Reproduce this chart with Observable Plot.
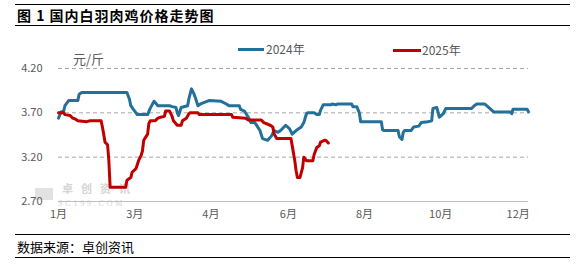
<!DOCTYPE html>
<html><head><meta charset="utf-8">
<script src="https://cdn.jsdelivr.net/npm/d3@7"></script>
<script src="https://cdn.jsdelivr.net/npm/@observablehq/plot@0.6"></script>
<style>
body{margin:0;background:#fff;font-family:"Noto Sans CJK SC","Noto Sans",sans-serif;}
#wrap{position:relative;width:581px;height:265px;overflow:hidden;background:#fff;}
.abs{position:absolute;white-space:nowrap;line-height:1;}
.hr{position:absolute;height:0;border-top:1.5px solid #000;}
#chart{position:absolute;left:0;top:0;}
</style></head><body><div id="wrap">
<div class="hr" style="left:15px;top:3.5px;width:555px;"></div>
<div class="abs" style="left:17px;top:8px;font-size:14px;font-weight:bold;color:#000;letter-spacing:1px;">图 1 国内白羽肉鸡价格走势图</div>
<div class="hr" style="left:15px;top:25px;width:555px;"></div>
<div class="abs" style="left:35px;top:188px;width:18px;height:12px;background:#e2e2e2;"></div>
<div class="abs" style="left:62px;top:183px;font-size:11px;color:#d4d4d4;font-weight:bold;letter-spacing:8px;">卓创资讯</div>
<div class="abs" style="left:58px;top:199.5px;font-size:8px;color:#d4d4d4;letter-spacing:2.8px;font-family:'Liberation Serif',serif;">SC199.COM</div>
<div id="chart"></div>
<div class="abs" style="left:73px;top:52px;font-size:13px;color:#595959;">元/斤</div>
<div class="abs" id="leg1" style="left:238px;top:47.5px;width:26px;height:3px;"></div>
<div class="abs" id="leg1t" style="left:266px;top:43px;font-size:12px;color:#595959;"></div>
<div class="abs" id="leg2" style="left:393px;top:48.5px;width:28px;height:3px;"></div>
<div class="abs" id="leg2t" style="left:422px;top:44px;font-size:12px;color:#595959;"></div>
<div class="hr" style="left:15px;top:234px;width:555px;"></div>
<div class="abs" style="left:17px;top:240px;font-size:13px;color:#000;">数据来源：卓创资讯</div>
<div class="hr" style="left:15px;top:257px;width:555px;"></div>
</div>
<script>
const dates2024 = ["01-01","01-03","01-05","01-06","01-09","01-16","01-17","01-19","02-23","02-25","02-26","02-28","03-02","03-03","03-11","03-13","03-16","03-19","03-28","03-30","04-02","04-03","04-04","04-06","04-11","04-12","04-14","04-16","04-17","04-19","04-21","04-28","05-07","05-11","05-13","05-21","05-22","05-25","05-28","05-30","06-02","06-03","06-06","06-08","06-12","06-15","06-17","06-20","06-22","06-26","06-29","07-01","07-04","07-08","07-10","07-12","07-13","07-18","07-20","07-22","07-23","07-25","07-31","08-01","08-04","08-05","08-16","08-17","08-20","08-22","08-23","09-08","09-09","09-10","09-21","09-22","09-24","09-25","09-26","10-01","10-03","10-07","10-09","10-14","10-17","10-18","10-21","10-23","10-26","10-28","11-17","11-19","11-21","11-27","12-01","12-04","12-17","12-18","12-19","12-30","12-31"];
const prices2024 = [3.64,3.71,3.72,3.78,3.84,3.84,3.91,3.93,3.93,3.85,3.78,3.74,3.70,3.68,3.68,3.75,3.83,3.78,3.78,3.77,3.76,3.70,3.67,3.76,3.78,3.86,3.97,3.91,3.87,3.78,3.80,3.84,3.83,3.80,3.78,3.78,3.74,3.72,3.65,3.59,3.59,3.57,3.50,3.41,3.39,3.44,3.50,3.48,3.50,3.56,3.52,3.46,3.50,3.54,3.59,3.69,3.70,3.70,3.68,3.68,3.73,3.79,3.79,3.80,3.79,3.80,3.80,3.77,3.77,3.70,3.60,3.60,3.51,3.50,3.50,3.43,3.40,3.48,3.50,3.50,3.54,3.55,3.59,3.60,3.61,3.75,3.76,3.65,3.69,3.75,3.75,3.78,3.80,3.80,3.75,3.71,3.71,3.69,3.74,3.74,3.71];
const dates2025 = ["01-01","01-05","01-06","01-10","01-12","01-14","01-16","01-23","01-25","02-03","02-04","02-05","02-06","02-08","02-09","02-10","02-22","02-23","02-26","02-27","03-02","03-04","03-06","03-07","03-08","03-11","03-12","03-13","03-17","03-19","03-21","03-24","03-25","03-28","03-29","03-30","03-31","04-03","04-06","04-07","04-10","04-12","04-13","04-19","04-20","05-15","05-16","05-26","05-28","06-07","06-09","06-14","06-16","06-17","06-19","06-30","07-01","07-03","07-04","07-05","07-07","07-09","07-10","07-12","07-17","07-18","07-20","07-22","07-23","07-26","07-27","07-29"];
const prices2025 = [3.70,3.70,3.68,3.67,3.64,3.63,3.61,3.60,3.61,3.61,3.54,3.46,3.37,3.34,3.16,2.86,2.86,2.94,2.97,3.03,3.07,3.16,3.22,3.27,3.39,3.46,3.58,3.61,3.61,3.64,3.65,3.66,3.72,3.72,3.69,3.66,3.61,3.56,3.56,3.61,3.64,3.69,3.70,3.70,3.68,3.68,3.65,3.64,3.62,3.62,3.59,3.56,3.54,3.46,3.41,3.41,3.33,3.16,3.05,2.97,2.97,3.08,3.20,3.16,3.16,3.23,3.31,3.33,3.37,3.39,3.39,3.36];
const tickDates = ["01-01","03-01","04-29","06-28","08-26","10-24","12-23"];
const tickLabels = ["1月","3月","4月","6月","8月","10月","12月"];
const yTicks = [2.70, 3.20, 3.70, 4.20];
const seriesNames = ["2024年","2025年"];
const seriesColors = ["#23709a","#c00000"];

const parse = s => new Date(`2025-${s}T00:00:00Z`);
const tickTimes = tickDates.map(parse);
const rows = [
  ...dates2024.map((d,i)=>({date:parse(d), price:prices2024[i], series:seriesNames[0]})),
  ...dates2025.map((d,i)=>({date:parse(d), price:prices2025[i], series:seriesNames[1]}))
];

const chart = Plot.plot({
  width:581, height:265,
  marginLeft:58, marginRight:53, marginTop:68, marginBottom:64,
  style:{background:"transparent", fontFamily:"'Noto Sans CJK SC','Noto Sans',sans-serif", fontSize:"11px", color:"#595959", overflow:"visible"},
  x:{type:"utc", domain:[parse("01-01"), parse("12-31")], ticks:tickTimes,
     tickFormat:d => tickLabels[tickTimes.findIndex(t => +t === +d)], tickSize:0, tickPadding:9, label:null},
  y:{domain:[2.7,4.2], ticks:yTicks, tickFormat:d3.format(".2f"), tickSize:0, tickPadding:16, label:null},
  color:{domain:seriesNames, range:seriesColors},
  marks:[
    Plot.ruleY(yTicks.slice(1), {stroke:"#a6a6a6", strokeDasharray:"4,3", strokeWidth:1}),
    Plot.ruleY([yTicks[0]], {stroke:"#bfbfbf", strokeWidth:1}),
    Plot.line(rows, {x:"date", y:"price", z:"series", stroke:"series", strokeWidth:3, strokeLinejoin:"round", strokeLinecap:"round"})
  ]
});
document.getElementById("chart").appendChild(chart);
document.getElementById("leg1").style.background = seriesColors[0];
document.getElementById("leg2").style.background = seriesColors[1];
document.getElementById("leg1t").textContent = seriesNames[0];
document.getElementById("leg2t").textContent = seriesNames[1];
</script>
</body></html>
